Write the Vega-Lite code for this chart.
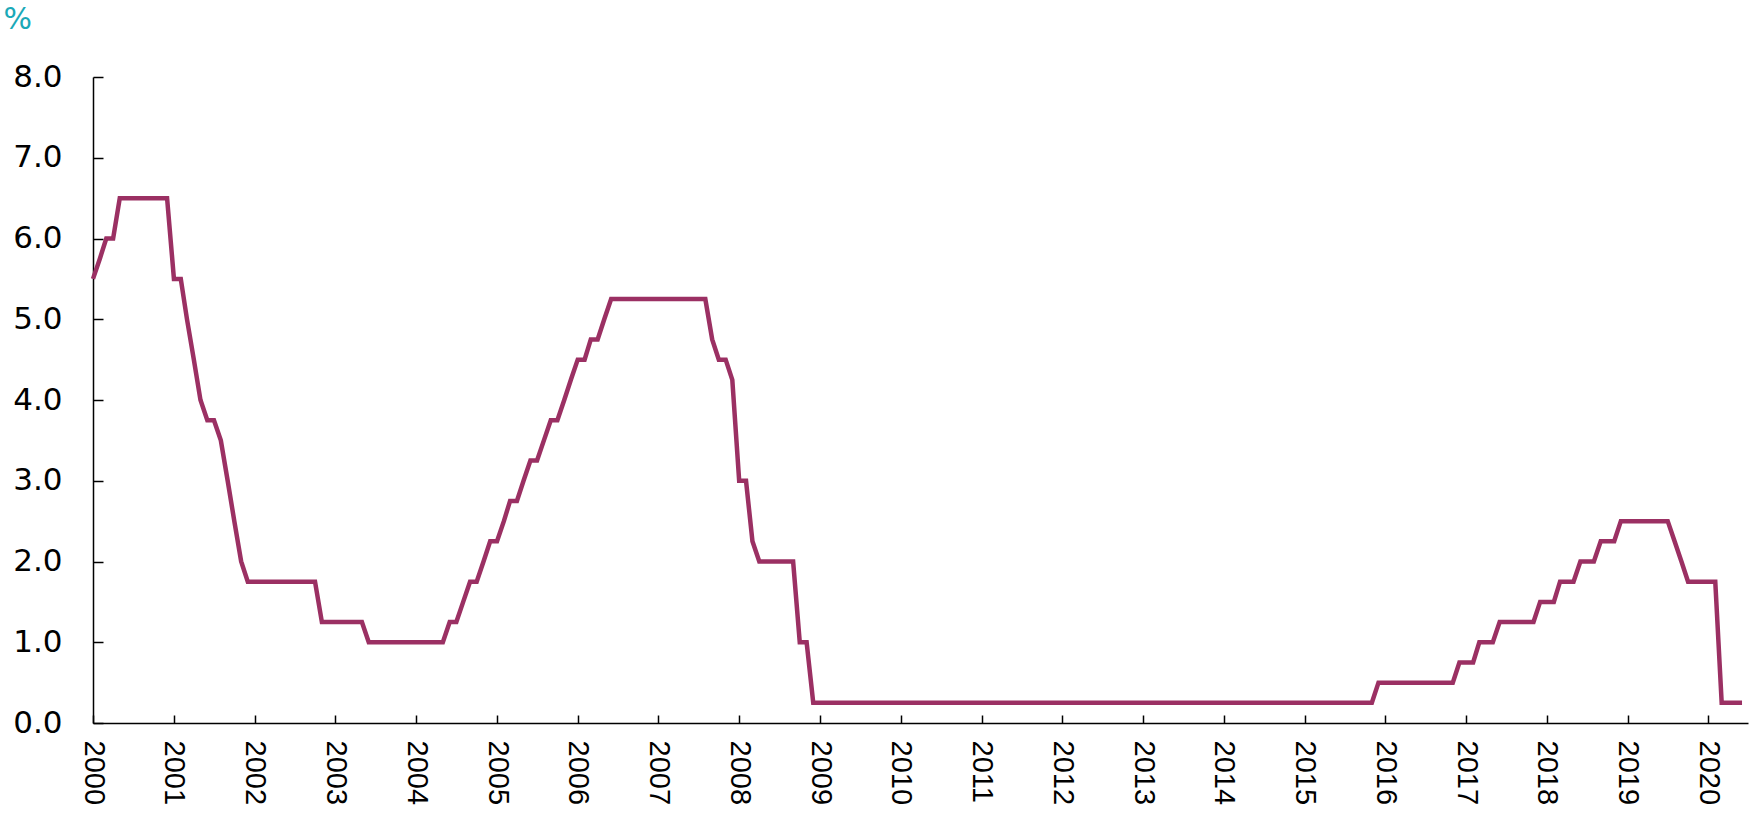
{
  "$schema": "https://vega.github.io/schema/vega-lite/v6.json",
  "width": 1655,
  "height": 646,
  "autosize": {"type": "none"},
  "padding": {"left": 93, "top": 77, "right": 2, "bottom": 90},
  "background": "white",
  "config": {"view": {"stroke": null}},
  "data": {"values": [
    {"d":"2000-01-01","v":5.5},{"d":"2000-02-01","v":5.75},{"d":"2000-03-01","v":6.0},{"d":"2000-04-01","v":6.0},{"d":"2000-05-01","v":6.5},{"d":"2000-06-01","v":6.5},{"d":"2000-07-01","v":6.5},{"d":"2000-08-01","v":6.5},{"d":"2000-09-01","v":6.5},{"d":"2000-10-01","v":6.5},{"d":"2000-11-01","v":6.5},{"d":"2000-12-01","v":6.5},
    {"d":"2001-01-01","v":5.5},{"d":"2001-02-01","v":5.5},{"d":"2001-03-01","v":5.0},{"d":"2001-04-01","v":4.5},{"d":"2001-05-01","v":4.0},{"d":"2001-06-01","v":3.75},{"d":"2001-07-01","v":3.75},{"d":"2001-08-01","v":3.5},{"d":"2001-09-01","v":3.0},{"d":"2001-10-01","v":2.5},{"d":"2001-11-01","v":2.0},{"d":"2001-12-01","v":1.75},
    {"d":"2002-01-01","v":1.75},{"d":"2002-02-01","v":1.75},{"d":"2002-03-01","v":1.75},{"d":"2002-04-01","v":1.75},{"d":"2002-05-01","v":1.75},{"d":"2002-06-01","v":1.75},{"d":"2002-07-01","v":1.75},{"d":"2002-08-01","v":1.75},{"d":"2002-09-01","v":1.75},{"d":"2002-10-01","v":1.75},{"d":"2002-11-01","v":1.25},{"d":"2002-12-01","v":1.25},
    {"d":"2003-01-01","v":1.25},{"d":"2003-02-01","v":1.25},{"d":"2003-03-01","v":1.25},{"d":"2003-04-01","v":1.25},{"d":"2003-05-01","v":1.25},{"d":"2003-06-01","v":1.0},{"d":"2003-07-01","v":1.0},{"d":"2003-08-01","v":1.0},{"d":"2003-09-01","v":1.0},{"d":"2003-10-01","v":1.0},{"d":"2003-11-01","v":1.0},{"d":"2003-12-01","v":1.0},
    {"d":"2004-01-01","v":1.0},{"d":"2004-02-01","v":1.0},{"d":"2004-03-01","v":1.0},{"d":"2004-04-01","v":1.0},{"d":"2004-05-01","v":1.0},{"d":"2004-06-01","v":1.25},{"d":"2004-07-01","v":1.25},{"d":"2004-08-01","v":1.5},{"d":"2004-09-01","v":1.75},{"d":"2004-10-01","v":1.75},{"d":"2004-11-01","v":2.0},{"d":"2004-12-01","v":2.25},
    {"d":"2005-01-01","v":2.25},{"d":"2005-02-01","v":2.5},{"d":"2005-03-01","v":2.75},{"d":"2005-04-01","v":2.75},{"d":"2005-05-01","v":3.0},{"d":"2005-06-01","v":3.25},{"d":"2005-07-01","v":3.25},{"d":"2005-08-01","v":3.5},{"d":"2005-09-01","v":3.75},{"d":"2005-10-01","v":3.75},{"d":"2005-11-01","v":4.0},{"d":"2005-12-01","v":4.25},
    {"d":"2006-01-01","v":4.5},{"d":"2006-02-01","v":4.5},{"d":"2006-03-01","v":4.75},{"d":"2006-04-01","v":4.75},{"d":"2006-05-01","v":5.0},{"d":"2006-06-01","v":5.25},{"d":"2006-07-01","v":5.25},{"d":"2006-08-01","v":5.25},{"d":"2006-09-01","v":5.25},{"d":"2006-10-01","v":5.25},{"d":"2006-11-01","v":5.25},{"d":"2006-12-01","v":5.25},
    {"d":"2007-01-01","v":5.25},{"d":"2007-02-01","v":5.25},{"d":"2007-03-01","v":5.25},{"d":"2007-04-01","v":5.25},{"d":"2007-05-01","v":5.25},{"d":"2007-06-01","v":5.25},{"d":"2007-07-01","v":5.25},{"d":"2007-08-01","v":5.25},{"d":"2007-09-01","v":4.75},{"d":"2007-10-01","v":4.5},{"d":"2007-11-01","v":4.5},{"d":"2007-12-01","v":4.25},
    {"d":"2008-01-01","v":3.0},{"d":"2008-02-01","v":3.0},{"d":"2008-03-01","v":2.25},{"d":"2008-04-01","v":2.0},{"d":"2008-05-01","v":2.0},{"d":"2008-06-01","v":2.0},{"d":"2008-07-01","v":2.0},{"d":"2008-08-01","v":2.0},{"d":"2008-09-01","v":2.0},{"d":"2008-10-01","v":1.0},{"d":"2008-11-01","v":1.0},{"d":"2008-12-01","v":0.25},
    {"d":"2009-01-01","v":0.25},{"d":"2009-02-01","v":0.25},{"d":"2009-03-01","v":0.25},{"d":"2009-04-01","v":0.25},{"d":"2009-05-01","v":0.25},{"d":"2009-06-01","v":0.25},{"d":"2009-07-01","v":0.25},{"d":"2009-08-01","v":0.25},{"d":"2009-09-01","v":0.25},{"d":"2009-10-01","v":0.25},{"d":"2009-11-01","v":0.25},{"d":"2009-12-01","v":0.25},
    {"d":"2010-01-01","v":0.25},{"d":"2010-02-01","v":0.25},{"d":"2010-03-01","v":0.25},{"d":"2010-04-01","v":0.25},{"d":"2010-05-01","v":0.25},{"d":"2010-06-01","v":0.25},{"d":"2010-07-01","v":0.25},{"d":"2010-08-01","v":0.25},{"d":"2010-09-01","v":0.25},{"d":"2010-10-01","v":0.25},{"d":"2010-11-01","v":0.25},{"d":"2010-12-01","v":0.25},
    {"d":"2011-01-01","v":0.25},{"d":"2011-02-01","v":0.25},{"d":"2011-03-01","v":0.25},{"d":"2011-04-01","v":0.25},{"d":"2011-05-01","v":0.25},{"d":"2011-06-01","v":0.25},{"d":"2011-07-01","v":0.25},{"d":"2011-08-01","v":0.25},{"d":"2011-09-01","v":0.25},{"d":"2011-10-01","v":0.25},{"d":"2011-11-01","v":0.25},{"d":"2011-12-01","v":0.25},
    {"d":"2012-01-01","v":0.25},{"d":"2012-02-01","v":0.25},{"d":"2012-03-01","v":0.25},{"d":"2012-04-01","v":0.25},{"d":"2012-05-01","v":0.25},{"d":"2012-06-01","v":0.25},{"d":"2012-07-01","v":0.25},{"d":"2012-08-01","v":0.25},{"d":"2012-09-01","v":0.25},{"d":"2012-10-01","v":0.25},{"d":"2012-11-01","v":0.25},{"d":"2012-12-01","v":0.25},
    {"d":"2013-01-01","v":0.25},{"d":"2013-02-01","v":0.25},{"d":"2013-03-01","v":0.25},{"d":"2013-04-01","v":0.25},{"d":"2013-05-01","v":0.25},{"d":"2013-06-01","v":0.25},{"d":"2013-07-01","v":0.25},{"d":"2013-08-01","v":0.25},{"d":"2013-09-01","v":0.25},{"d":"2013-10-01","v":0.25},{"d":"2013-11-01","v":0.25},{"d":"2013-12-01","v":0.25},
    {"d":"2014-01-01","v":0.25},{"d":"2014-02-01","v":0.25},{"d":"2014-03-01","v":0.25},{"d":"2014-04-01","v":0.25},{"d":"2014-05-01","v":0.25},{"d":"2014-06-01","v":0.25},{"d":"2014-07-01","v":0.25},{"d":"2014-08-01","v":0.25},{"d":"2014-09-01","v":0.25},{"d":"2014-10-01","v":0.25},{"d":"2014-11-01","v":0.25},{"d":"2014-12-01","v":0.25},
    {"d":"2015-01-01","v":0.25},{"d":"2015-02-01","v":0.25},{"d":"2015-03-01","v":0.25},{"d":"2015-04-01","v":0.25},{"d":"2015-05-01","v":0.25},{"d":"2015-06-01","v":0.25},{"d":"2015-07-01","v":0.25},{"d":"2015-08-01","v":0.25},{"d":"2015-09-01","v":0.25},{"d":"2015-10-01","v":0.25},{"d":"2015-11-01","v":0.25},{"d":"2015-12-01","v":0.5},
    {"d":"2016-01-01","v":0.5},{"d":"2016-02-01","v":0.5},{"d":"2016-03-01","v":0.5},{"d":"2016-04-01","v":0.5},{"d":"2016-05-01","v":0.5},{"d":"2016-06-01","v":0.5},{"d":"2016-07-01","v":0.5},{"d":"2016-08-01","v":0.5},{"d":"2016-09-01","v":0.5},{"d":"2016-10-01","v":0.5},{"d":"2016-11-01","v":0.5},{"d":"2016-12-01","v":0.75},
    {"d":"2017-01-01","v":0.75},{"d":"2017-02-01","v":0.75},{"d":"2017-03-01","v":1.0},{"d":"2017-04-01","v":1.0},{"d":"2017-05-01","v":1.0},{"d":"2017-06-01","v":1.25},{"d":"2017-07-01","v":1.25},{"d":"2017-08-01","v":1.25},{"d":"2017-09-01","v":1.25},{"d":"2017-10-01","v":1.25},{"d":"2017-11-01","v":1.25},{"d":"2017-12-01","v":1.5},
    {"d":"2018-01-01","v":1.5},{"d":"2018-02-01","v":1.5},{"d":"2018-03-01","v":1.75},{"d":"2018-04-01","v":1.75},{"d":"2018-05-01","v":1.75},{"d":"2018-06-01","v":2.0},{"d":"2018-07-01","v":2.0},{"d":"2018-08-01","v":2.0},{"d":"2018-09-01","v":2.25},{"d":"2018-10-01","v":2.25},{"d":"2018-11-01","v":2.25},{"d":"2018-12-01","v":2.5},
    {"d":"2019-01-01","v":2.5},{"d":"2019-02-01","v":2.5},{"d":"2019-03-01","v":2.5},{"d":"2019-04-01","v":2.5},{"d":"2019-05-01","v":2.5},{"d":"2019-06-01","v":2.5},{"d":"2019-07-01","v":2.5},{"d":"2019-08-01","v":2.25},{"d":"2019-09-01","v":2.0},{"d":"2019-10-01","v":1.75},{"d":"2019-11-01","v":1.75},{"d":"2019-12-01","v":1.75},
    {"d":"2020-01-01","v":1.75},{"d":"2020-02-01","v":1.75},{"d":"2020-03-01","v":0.25},{"d":"2020-04-01","v":0.25},{"d":"2020-05-01","v":0.25},{"d":"2020-06-01","v":0.25}
  ]},
  "mark": {"type": "line", "color": "#9B3063", "strokeWidth": 4.5, "strokeJoin": "miter"},
  "encoding": {
    "x": {
      "field": "d",
      "type": "temporal",
      "scale": {"type": "utc", "domain": [{"year": 2000, "month": 1, "date": 1, "utc": true}, {"year": 2020, "month": 6, "date": 28, "utc": true}], "nice": false},
      "axis": {
        "title": null,
        "format": "%Y",
        "tickCount": {"interval": "year", "step": 1},
        "grid": false,
        "domainColor": "#000000",
        "domainWidth": 1.5,
        "tickColor": "#000000",
        "tickWidth": 1.5,
        "tickSize": -8,
        "labelAngle": 90,
        "labelAlign": "left",
        "labelBaseline": "middle",
        "labelPadding": 25,
        "labelFont": "Liberation Sans",
        "labelFontSize": 29,
        "labelColor": "#000000",
        "labelFlush": false,
        "labelOverlap": false,
        "labelBound": false
      }
    },
    "y": {
      "field": "v",
      "type": "quantitative",
      "scale": {"domain": [0, 8], "nice": false},
      "axis": {
        "title": "%",
        "titleAngle": 0,
        "titleX": -90,
        "titleY": -73,
        "titleAlign": "left",
        "titleBaseline": "top",
        "titleColor": "#1AA9B8",
        "titleFont": "DejaVu Sans",
        "titleFontSize": 30,
        "titleFontWeight": "normal",
        "values": [0, 1, 2, 3, 4, 5, 6, 7, 8],
        "format": ".1f",
        "grid": false,
        "domainColor": "#000000",
        "domainWidth": 1.5,
        "tickColor": "#000000",
        "tickWidth": 1.5,
        "tickSize": -10,
        "labelPadding": 41,
        "labelFont": "DejaVu Sans",
        "labelFontSize": 31,
        "labelColor": "#000000",
        "labelFlush": false,
        "labelOverlap": false,
        "labelBound": false
      }
    }
  }
}
